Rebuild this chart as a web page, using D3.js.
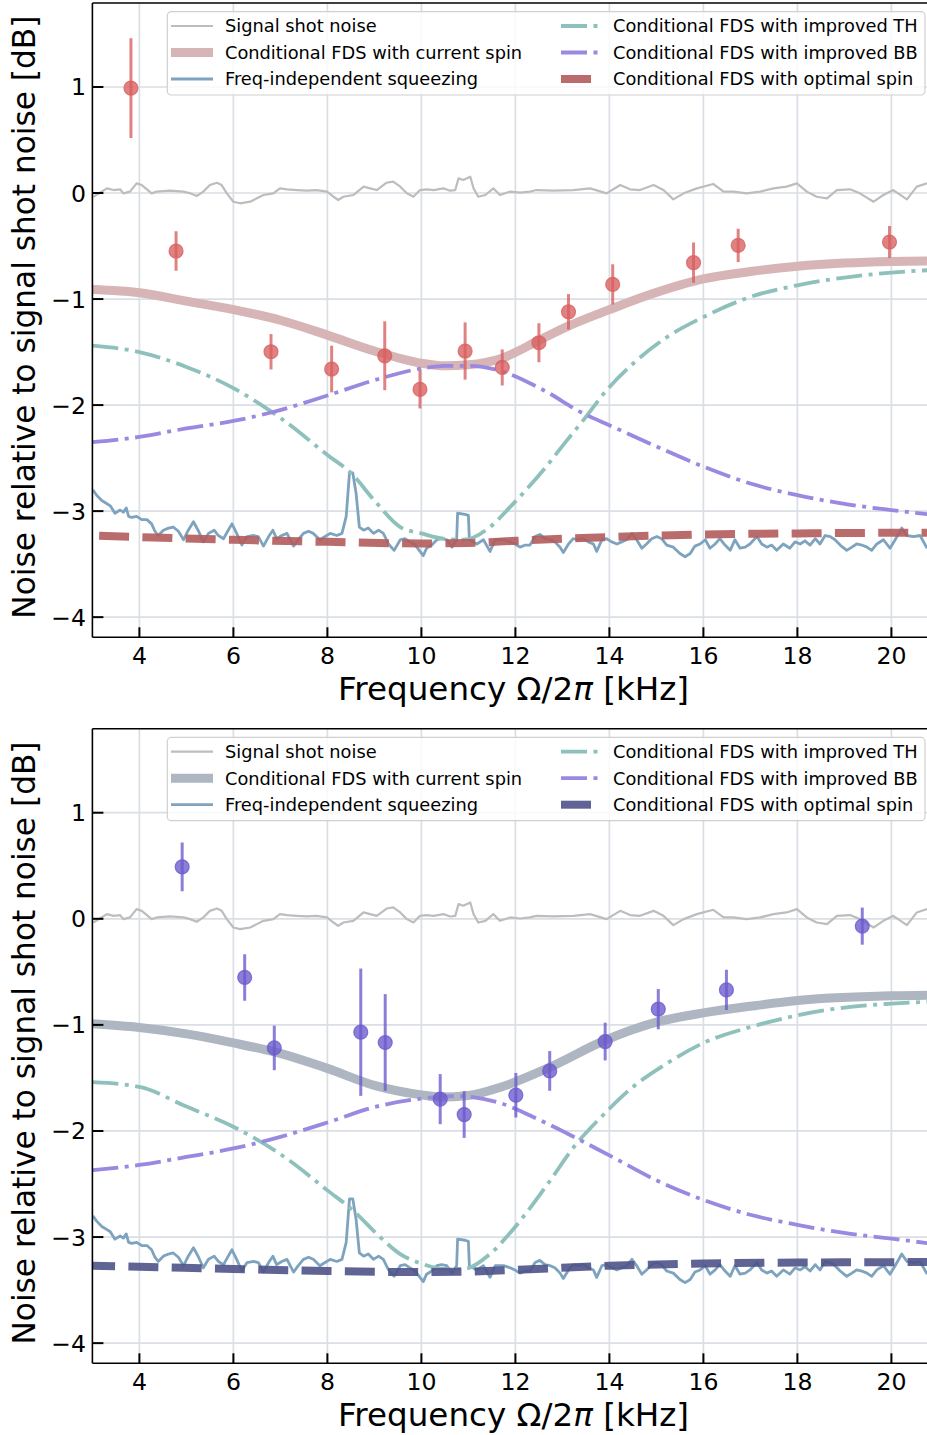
<!DOCTYPE html>
<html>
<head>
<meta charset="utf-8">
<script src="https://cdn.jsdelivr.net/npm/d3@7"></script>
<style>
  body { margin: 0; background: #fff; }
  svg { display: block; }
</style>
</head>
<body>
<svg id="fig" width="927" height="1435"></svg>
<script>
// ---------- axis ticks ----------
const xTicks = [4, 6, 8, 10, 12, 14, 16, 18, 20];
const yTicks = [-4, -3, -2, -1, 0, 1];
// x title split so the math symbol can be set in italic
const xLabelParts = [["Frequency Ω/2", "normal"], ["π", "italic"], [" [kHz]", "normal"]];
const yLabel = "Noise relative to signal shot noise [dB]";

const legendLabels = [
  "Signal shot noise",
  "Conditional FDS with current spin",
  "Freq-independent squeezing",
  "Conditional FDS with improved TH",
  "Conditional FDS with improved BB",
  "Conditional FDS with optimal spin"
];

// ---------- measured traces [kHz, dB] ----------
const shotNoise = [
  [3.02,-0.035],[3.16,0.003],[3.31,0.044],[3.45,0.028],[3.59,0.035],[3.66,-0.003],[3.80,0.013],[3.94,0.091],
  [4.05,0.075],[4.16,0.035],[4.26,-0.003],[4.37,0.013],[4.65,0.022],[4.94,0.013],[5.08,-0.003],[5.22,-0.028],
  [5.36,0.013],[5.50,0.075],[5.65,0.097],[5.75,0.075],[5.86,-0.003],[6.00,-0.082],[6.14,-0.097],[6.36,-0.082],
  [6.50,-0.05],[6.64,-0.019],[6.85,-0.003],[6.99,0.044],[7.14,0.035],[7.35,0.028],[7.56,0.022],[7.77,0.028],
  [7.99,0.013],[8.13,-0.035],[8.23,-0.066],[8.34,-0.035],[8.55,-0.019],[8.77,0.06],[8.91,0.044],[9.05,0.028],
  [9.26,0.097],[9.40,0.107],[9.55,0.06],[9.69,-0.003],[9.83,-0.035],[9.97,0.028],[10.11,0.035],[10.26,0.028],
  [10.47,0.044],[10.61,0.022],[10.72,0.028],[10.79,0.138],[10.89,0.123],[11.04,0.154],[11.11,0.044],[11.21,-0.035],
  [11.36,-0.019],[11.53,0.044],[11.67,-0.019],[11.89,0.013],[12.10,0.003],[12.31,0.013],[12.45,0.028],[12.81,0.022],
  [13.24,0.028],[13.59,0.044],[13.94,-0.003],[14.23,0.075],[14.44,0.035],[14.65,0.028],[14.94,0.075],[15.15,0.028],
  [15.36,-0.06],[15.58,-0.003],[15.86,0.044],[16.21,0.085],[16.43,0.013],[16.64,0.013],[16.92,-0.003],[17.21,0.013],
  [17.49,0.044],[17.77,0.06],[17.99,0.091],[18.20,0.013],[18.41,-0.035],[18.63,-0.05],[18.84,0.028],[19.12,0.035],
  [19.33,-0.003],[19.62,-0.082],[19.83,-0.019],[20.04,0.028],[20.33,-0.06],[20.54,0.06],[20.76,0.091]
];

const fisSqueezing = [
  [3.01,-2.80],[3.09,-2.85],[3.20,-2.90],[3.31,-2.93],[3.38,-2.95],[3.48,-3.02],[3.59,-2.99],[3.66,-3.01],
  [3.72,-2.97],[3.77,-3.05],[3.84,-3.06],[3.94,-3.05],[4.05,-3.08],[4.16,-3.08],[4.26,-3.12],[4.33,-3.19],
  [4.40,-3.23],[4.51,-3.18],[4.62,-3.16],[4.72,-3.15],[4.83,-3.19],[4.94,-3.27],[5.04,-3.18],[5.15,-3.10],
  [5.26,-3.19],[5.36,-3.29],[5.47,-3.21],[5.59,-3.18],[5.68,-3.23],[5.79,-3.26],[5.89,-3.18],[5.97,-3.12],
  [6.07,-3.21],[6.18,-3.32],[6.29,-3.24],[6.43,-3.23],[6.53,-3.24],[6.64,-3.33],[6.75,-3.24],[6.84,-3.18],
  [6.92,-3.26],[7.03,-3.23],[7.14,-3.21],[7.28,-3.33],[7.38,-3.27],[7.49,-3.21],[7.60,-3.19],[7.70,-3.21],
  [7.84,-3.27],[7.95,-3.24],[8.06,-3.21],[8.20,-3.23],[8.31,-3.21],[8.40,-3.05],[8.47,-2.64],[8.54,-2.64],
  [8.61,-2.83],[8.68,-3.15],[8.77,-3.18],[8.87,-3.16],[8.98,-3.21],[9.09,-3.18],[9.19,-3.21],[9.30,-3.31],
  [9.42,-3.37],[9.55,-3.27],[9.65,-3.26],[9.76,-3.29],[9.87,-3.32],[9.97,-3.38],[10.04,-3.42],[10.11,-3.35],
  [10.22,-3.32],[10.33,-3.27],[10.43,-3.26],[10.54,-3.27],[10.65,-3.34],[10.75,-3.27],[10.77,-3.02],[10.93,-3.03],
  [11.00,-3.04],[11.02,-3.27],[11.18,-3.31],[11.32,-3.27],[11.46,-3.38],[11.57,-3.27],[11.75,-3.27],[11.89,-3.29],
  [11.99,-3.31],[12.10,-3.34],[12.21,-3.32],[12.31,-3.32],[12.42,-3.24],[12.52,-3.22],[12.63,-3.26],[12.74,-3.27],
  [12.84,-3.29],[12.95,-3.34],[13.02,-3.39],[13.13,-3.31],[13.23,-3.26],[13.34,-3.27],[13.45,-3.26],[13.55,-3.29],
  [13.66,-3.31],[13.73,-3.38],[13.84,-3.27],[13.94,-3.26],[14.05,-3.29],[14.16,-3.31],[14.26,-3.29],[14.37,-3.27],
  [14.48,-3.21],[14.58,-3.27],[14.69,-3.35],[14.79,-3.31],[14.90,-3.26],[15.01,-3.24],[15.11,-3.26],[15.22,-3.32],
  [15.36,-3.34],[15.50,-3.40],[15.61,-3.43],[15.72,-3.40],[15.82,-3.33],[15.93,-3.31],[16.04,-3.27],[16.14,-3.35],
  [16.25,-3.31],[16.35,-3.26],[16.46,-3.32],[16.57,-3.37],[16.67,-3.27],[16.78,-3.35],[16.89,-3.34],[16.99,-3.31],
  [17.14,-3.24],[17.24,-3.31],[17.35,-3.34],[17.45,-3.32],[17.56,-3.37],[17.70,-3.31],[17.84,-3.35],[17.95,-3.29],
  [18.06,-3.31],[18.16,-3.28],[18.27,-3.32],[18.38,-3.26],[18.48,-3.31],[18.59,-3.23],[18.70,-3.24],[18.80,-3.27],
  [18.91,-3.32],[19.05,-3.37],[19.16,-3.34],[19.26,-3.31],[19.37,-3.32],[19.48,-3.34],[19.58,-3.37],[19.69,-3.31],
  [19.83,-3.27],[19.97,-3.35],[20.08,-3.27],[20.22,-3.16],[20.33,-3.23],[20.47,-3.24],[20.61,-3.23],[20.76,-3.35]
];

// ---------- panel (a) model curves [kHz, dB] ----------
const aCurrentSpin = [[3,-0.91],[4,-0.94],[5,-1.02],[6,-1.10],[7,-1.20],[8,-1.34],[9,-1.49],[10,-1.605],[10.5,-1.63],
  [11,-1.62],[11.7,-1.56],[12.5,-1.39],[13.1,-1.26],[14,-1.10],[14.85,-0.96],[16,-0.81],[17,-0.74],[18,-0.69],
  [19,-0.66],[20,-0.645],[20.9,-0.64]];
const aImprovedTH = [[3,-1.44],[4,-1.50],[5,-1.64],[6,-1.84],[6.8,-2.06],[7.06,-2.14],[8,-2.47],[8.5,-2.64],[9,-2.90],
  [9.55,-3.15],[10,-3.21],[10.47,-3.26],[10.9,-3.27],[11.46,-3.15],[11.89,-2.96],[12.6,-2.61],[13.1,-2.33],
  [13.45,-2.14],[13.94,-1.86],[14.5,-1.61],[15.22,-1.36],[16,-1.17],[17,-0.98],[18,-0.87],[19.13,-0.79],[20,-0.75],[20.9,-0.725]];
const aImprovedBB = [[3,-2.35],[4,-2.30],[5,-2.22],[6,-2.15],[6.8,-2.07],[8,-1.91],[9,-1.765],[10,-1.655],[10.5,-1.63],
  [11,-1.63],[11.7,-1.68],[12.6,-1.86],[13.45,-2.08],[14,-2.19],[15,-2.39],[16,-2.58],[17,-2.74],[18,-2.85],
  [19.13,-2.94],[20,-2.99],[20.9,-3.035]];
const aOptimalSpin = [[3,-3.23],[4,-3.245],[6,-3.27],[8,-3.29],[10,-3.305],[11,-3.30],[12,-3.28],[14,-3.245],
  [16,-3.22],[18,-3.21],[20,-3.205],[20.9,-3.205]];
// measured points [kHz, dB, error]
const aMeasured = [[3.82,0.99,0.47],[4.78,-0.547,0.186],[6.80,-1.497,0.167],[8.09,-1.66,0.22],[9.22,-1.535,0.325],
  [9.97,-1.852,0.18],[10.93,-1.49,0.27],[11.72,-1.645,0.17],[12.50,-1.412,0.184],[13.13,-1.12,0.167],
  [14.07,-0.862,0.19],[15.79,-0.657,0.19],[16.74,-0.494,0.157],[19.96,-0.462,0.15]];

// ---------- panel (b) model curves [kHz, dB] ----------
const bCurrentSpin = [[3,-0.99],[4,-1.025],[5,-1.085],[6,-1.17],[6.87,-1.255],[8,-1.41],[9,-1.57],[10,-1.66],[10.4,-1.68],
  [11,-1.665],[11.7,-1.585],[12.73,-1.40],[13.91,-1.145],[15.04,-0.97],[16,-0.887],[17,-0.824],[18,-0.77],
  [20,-0.726],[20.9,-0.72]];
const bImprovedTH = [[3,-1.54],[4,-1.585],[5,-1.77],[6,-1.96],[7.2,-2.28],[8,-2.56],[8.55,-2.75],[9.05,-2.97],[9.55,-3.16],
  [10,-3.25],[10.47,-3.30],[10.9,-3.30],[11.46,-3.16],[11.89,-2.96],[12.67,-2.51],[13.3,-2.12],[13.8,-1.88],
  [14.5,-1.585],[15.22,-1.364],[16,-1.17],[17,-1.02],[18,-0.91],[19.13,-0.83],[20,-0.80],[20.9,-0.78]];
const bImprovedBB = [[3,-2.37],[4,-2.32],[5,-2.245],[6,-2.165],[7,-2.055],[8,-1.92],[9,-1.775],[10,-1.695],[10.76,-1.672],
  [11.7,-1.74],[12.53,-1.90],[14,-2.23],[15,-2.465],[16,-2.65],[17,-2.79],[18,-2.885],[19.13,-2.97],[20,-3.015],[20.9,-3.065]];
const bOptimalSpin = [[3,-3.27],[4,-3.28],[6,-3.30],[8,-3.32],[10,-3.33],[11,-3.325],[12,-3.31],[14,-3.27],
  [16,-3.25],[18,-3.24],[20,-3.237],[20.9,-3.235]];
const bMeasured = [[4.91,0.49,0.23],[6.24,-0.553,0.22],[6.87,-1.217,0.21],[8.71,-1.069,0.6],[9.23,-1.166,0.456],
  [10.40,-1.70,0.236],[10.91,-1.845,0.22],[12.01,-1.663,0.21],[12.73,-1.434,0.187],[13.91,-1.157,0.178],
  [15.04,-0.852,0.19],[16.49,-0.67,0.19],[19.38,-0.069,0.175]];

// ---------- styling ----------
const FONT = "'DejaVu Sans', sans-serif";
const C = {
  grid: "#dadee5",
  shot: "#bdbdbd",
  fis: "#7ea3bf",
  th: "#8ec0bc",
  bb: "#9b88e0"
};
const panels = [
  { top: 3, bottom: 637.3, current: aCurrentSpin, th: aImprovedTH, bb: aImprovedBB, optimal: aOptimalSpin,
    points: aMeasured, currentColor: "#d7b4b6", optimalColor: "#b35c5c", pointColor: "#d95f5f", dashOffset: 36.6 },
  { top: 728.7, bottom: 1363.3, current: bCurrentSpin, th: bImprovedTH, bb: bImprovedBB, optimal: bOptimalSpin,
    points: bMeasured, currentColor: "#aeb6c1", optimalColor: "#4f5388", pointColor: "#6a5acd", dashOffset: 7.3 }
];

const svg = d3.select("#fig");
const xDomain = [3, 20.9];
const left = 92.4, pxPerKHz = 47;
const right = left + pxPerKHz * (xDomain[1] - xDomain[0]);
const x = d3.scaleLinear().domain(xDomain).range([left, right]);

panels.forEach((p, i) => {
  const y = d3.scaleLinear().domain([-4.19, 1.792]).range([p.bottom, p.top]);
  const g = svg.append("g");
  const clipId = "clip" + i;
  g.append("clipPath").attr("id", clipId)
    .append("rect").attr("x", left).attr("y", p.top).attr("width", right - left).attr("height", p.bottom - p.top);

  // grid
  const grid = g.append("g").attr("stroke", C.grid).attr("stroke-width", 1.7);
  grid.selectAll(".gx").data(xTicks).join("line")
    .attr("x1", d => x(d)).attr("x2", d => x(d)).attr("y1", p.top).attr("y2", p.bottom);
  grid.selectAll(".gy").data(yTicks).join("line")
    .attr("x1", left).attr("x2", right).attr("y1", d => y(d)).attr("y2", d => y(d));

  const plot = g.append("g").attr("clip-path", `url(#${clipId})`);
  const lin = d3.line().x(d => x(d[0])).y(d => y(d[1]));
  const smooth = d3.line().x(d => x(d[0])).y(d => y(d[1])).curve(d3.curveMonotoneX);

  plot.append("path").datum(shotNoise).attr("d", lin)
    .attr("fill", "none").attr("stroke", C.shot).attr("stroke-width", 2.2).attr("stroke-linejoin", "round");
  plot.append("path").datum(p.current).attr("d", smooth)
    .attr("fill", "none").attr("stroke", p.currentColor).attr("stroke-width", 9);
  plot.append("path").datum(fisSqueezing).attr("d", lin)
    .attr("fill", "none").attr("stroke", C.fis).attr("stroke-width", 2.8).attr("stroke-linejoin", "round");
  plot.append("path").datum(p.th).attr("d", smooth)
    .attr("fill", "none").attr("stroke", C.th).attr("stroke-width", 3.8).attr("stroke-dasharray", "26,6.5,4,6.5");
  plot.append("path").datum(p.bb).attr("d", smooth)
    .attr("fill", "none").attr("stroke", C.bb).attr("stroke-width", 3.8).attr("stroke-dasharray", "26,6.5,4,6.5");
  plot.append("path").datum(p.optimal).attr("d", smooth)
    .attr("fill", "none").attr("stroke", p.optimalColor).attr("stroke-opacity", 0.9).attr("stroke-width", 8)
    .attr("stroke-dasharray", "30,13.3").attr("stroke-dashoffset", p.dashOffset);

  // measured points with error bars
  const pts = plot.append("g");
  pts.selectAll("line").data(p.points).join("line")
    .attr("x1", d => x(d[0])).attr("x2", d => x(d[0]))
    .attr("y1", d => y(d[1] + d[2])).attr("y2", d => y(d[1] - d[2]))
    .attr("stroke", p.pointColor).attr("stroke-opacity", 0.78).attr("stroke-width", 3);
  pts.selectAll("circle").data(p.points).join("circle")
    .attr("cx", d => x(d[0])).attr("cy", d => y(d[1])).attr("r", 7)
    .attr("fill", p.pointColor).attr("fill-opacity", 0.78)
    .attr("stroke", p.pointColor).attr("stroke-opacity", 0.78).attr("stroke-width", 1.2);

  // legend
  const lg = g.append("g");
  lg.append("rect").attr("x", 167.3).attr("y", p.top + 8.7).attr("width", 757.7).attr("height", 83.3)
    .attr("rx", 4).attr("fill", "#fff").attr("fill-opacity", 0.8).attr("stroke", "#d0d0d0").attr("stroke-width", 1.2);
  const handles = [
    { stroke: C.shot, w: 2.2 },
    { stroke: p.currentColor, w: 9 },
    { stroke: C.fis, w: 2.8 },
    { stroke: C.th, w: 3.8, dash: "26,6.5,4,6.5" },
    { stroke: C.bb, w: 3.8, dash: "26,6.5,4,6.5" },
    { stroke: p.optimalColor, w: 8, dash: "30,13.3", op: 0.9 }
  ];
  legendLabels.forEach((lab, k) => {
    const col = Math.floor(k / 3), row = k % 3;
    const cy = p.top + 23 + row * 26.5;
    const hx = col === 0 ? 171 : 561;
    const tx = col === 0 ? 225 : 613;
    const h = handles[k];
    lg.append("line").attr("x1", hx).attr("x2", hx + 42).attr("y1", cy).attr("y2", cy)
      .attr("stroke", h.stroke).attr("stroke-width", h.w)
      .attr("stroke-dasharray", h.dash || null).attr("stroke-opacity", h.op || 1);
    lg.append("text").attr("x", tx).attr("y", cy).attr("dy", "0.36em")
      .attr("font-family", FONT).attr("font-size", 17.8).attr("fill", "#000").text(lab);
  });

  // spines
  const sp = g.append("g").attr("stroke", "#000").attr("stroke-width", 1.6).attr("fill", "none");
  sp.append("line").attr("x1", left).attr("x2", left).attr("y1", p.top).attr("y2", p.bottom);
  sp.append("line").attr("x1", left).attr("x2", right).attr("y1", p.top).attr("y2", p.top);
  sp.append("line").attr("x1", left).attr("x2", right).attr("y1", p.bottom).attr("y2", p.bottom);

  // inward ticks and tick labels
  const tk = g.append("g").attr("stroke", "#000").attr("stroke-width", 2);
  tk.selectAll(".tx").data(xTicks).join("line")
    .attr("x1", d => x(d)).attr("x2", d => x(d)).attr("y1", p.bottom).attr("y2", p.bottom - 10);
  tk.selectAll(".ty").data(yTicks).join("line")
    .attr("x1", left).attr("x2", left + 11).attr("y1", d => y(d)).attr("y2", d => y(d));

  const fmt = d3.format("d");
  g.append("g").selectAll("text").data(xTicks).join("text")
    .attr("x", d => x(d)).attr("y", p.bottom + 27).attr("text-anchor", "middle")
    .attr("font-family", FONT).attr("font-size", 23.6).text(d => fmt(d));
  g.append("g").selectAll("text").data(yTicks).join("text")
    .attr("x", 86).attr("y", d => y(d)).attr("dy", "0.36em").attr("text-anchor", "end")
    .attr("font-family", FONT).attr("font-size", 23.6).text(d => fmt(d));

  // axis titles
  const xt = g.append("text").attr("x", 513.5).attr("y", p.bottom + 63).attr("text-anchor", "middle")
    .attr("font-family", FONT).attr("font-size", 32.6);
  xt.selectAll("tspan").data(xLabelParts).join("tspan")
    .attr("font-style", d => d[1]).text(d => d[0]);
  g.append("text")
    .attr("transform", `translate(35,${(p.top + p.bottom) / 2 - 3}) rotate(-90)`)
    .attr("text-anchor", "middle").attr("font-family", FONT).attr("font-size", 31.2).text(yLabel);
});
</script>
</body>
</html>
